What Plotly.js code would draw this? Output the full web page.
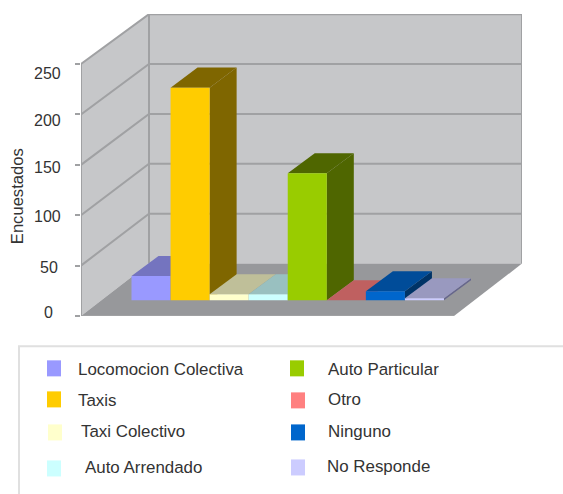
<!DOCTYPE html>
<html>
<head>
<meta charset="utf-8">
<script src="https://cdn.plot.ly/plotly-3.0.1.min.js"></script>
<style>html,body{margin:0;padding:0;background:#fff;overflow:hidden}</style>
</head>
<body>
<div id="chart" style="width:563px;height:494px"></div>
<script>
// ---- data ----
const categories = ["Locomocion Colectiva","Taxis","Taxi Colectivo","Auto Arrendado","Auto Particular","Otro","Ninguno","No Responde"];
const values = [24,211,6,6,126,0,9,2];
const frontColors = ["#9999ff","#ffcc00","#ffffcc","#ccffff","#99cc00","#ff8080","#0066cc","#ccccff"];
const topColors = ["#7474bf","#7f6600","#bfbf99","#99c0c0","#4f6600","#bf6060","#004c99","#9999bf"];
const sideColors = ["#5a5a99","#7f6600","#99997a","#7a9999","#4f6600","#995050","#003366","#66668c"];
const yTicks = [0,50,100,150,200,250];
const yTickLabels = ["0","50","100","150","200","250"];
const yAxisTitle = "Encuestados";

// ---- layout geometry (page pixels / axis units) ----
const W = 563, H = 494;
const PL = 81, PR = 522, PT = 14, PB = 315.7;
const pxPerUnitY = 1.0068, pxPerBar = 39.06;
const xMax = (PR-PL)/pxPerBar, yMax = (PB-PT)/pxPerUnitY;
const wallDX = 68/pxPerBar;
const floorW = 373/pxPerBar;
const backY = v => 52 + v*0.9901;
const barX0 = 50.5/pxPerBar, barY0 = 15.6;
const depthDX = 27/pxPerBar, depthDY = 19.9;
const gridColor = "#a0a1a3", wallColor = "#c6c7c9", floorColor = "#97989b", textColor = "#333333";

const poly = (xs, ys, color, name) => ({
  type:"scatter", mode:"lines", x:xs.concat(xs[0]), y:ys.concat(ys[0]), fill:"toself",
  fillcolor:color, line:{width:0,color:color}, hoverinfo:"skip", showlegend:false,
  cliponaxis:false, name:name||""
});
const seg = (xs, ys) => ({
  type:"scatter", mode:"lines", x:xs, y:ys, line:{width:2,color:gridColor},
  hoverinfo:"skip", showlegend:false, cliponaxis:false
});

const traces = [];
// walls and floor
traces.push(poly([wallDX,xMax,xMax,wallDX],[backY(0),backY(0),backY(250),backY(250)],wallColor,"wall"));
traces.push(poly([0,wallDX,wallDX,0],[0,backY(0),backY(250),250],wallColor,"side wall"));
traces.push(poly([0,floorW,xMax,wallDX],[0,0,backY(0),backY(0)],floorColor,"floor"));
// grid lines
yTicks.forEach(v=>{
  if(v>0) traces.push(seg([0,wallDX,xMax],[v,backY(v),backY(v)]));
});
traces.push(seg([0,0],[0,250]));
traces.push(seg([0,floorW],[0,0]));
traces.push(seg([wallDX,wallDX],[backY(0),backY(250)]));
traces.push(seg([xMax,xMax],[backY(0),backY(250)]));
// bars painted left to right
categories.forEach((c,i)=>{
  const x0 = barX0+i, x1 = x0+1, y0 = barY0, y1 = barY0+values[i];
  traces.push(poly([x1,x1+depthDX,x1+depthDX,x1],[y0,y0+depthDY,y1+depthDY,y1],sideColors[i],c+" side"));
  traces.push(poly([x0,x1,x1+depthDX,x0+depthDX],[y1,y1,y1+depthDY,y1+depthDY],topColors[i],c+" top"));
  traces.push(poly([x0,x1,x1,x0],[y0,y0,y1,y1],frontColors[i],c));
});

// ---- annotations placed in page pixels ----
const px = x => (x-PL)/(PR-PL), py = y => (PB-y)/(PB-PT);
const note = (text,x,y,anchor,size,angle) => ({
  text, xref:"paper", yref:"paper", x:px(x), y:py(y), xanchor:anchor, yanchor:"middle",
  showarrow:false, textangle:angle||0, borderpad:0, borderwidth:0,
  font:{family:"Liberation Sans, Arial, sans-serif",size:size,color:textColor}
});
const tickLabelRight = [52.7,58,61,61,61,61];
const tickLabelY = [312.7,267.7,216.7,167,120.7,73];
const annotations = [];
yTickLabels.forEach((t,i)=>annotations.push(note(t,tickLabelRight[i],tickLabelY[i],"right",16)));
annotations.push(note(yAxisTitle,17,196,"center",16.6,-90));

const swatchX = [47,47,48,47,290,291,291,291];
const swatchY = [360,391,424,460,360,392,424,459];
const legendTextX = [77.7,77.7,80.7,85,327.7,328,327.7,327];
const legendTextY = [368.7,400,431.5,467,368.7,399.5,431,466.5];
const shapes = [{type:"rect",xref:"paper",yref:"paper",x0:px(19),x1:px(580),y0:py(346),y1:py(510),
  line:{color:"#e0e0e0",width:2},fillcolor:"rgba(0,0,0,0)"}];
categories.forEach((c,i)=>{
  shapes.push({type:"rect",xref:"paper",yref:"paper",x0:px(swatchX[i]),x1:px(swatchX[i]+14),
    y0:py(swatchY[i]),y1:py(swatchY[i]+16),line:{width:0},fillcolor:frontColors[i]});
  annotations.push(note(c,legendTextX[i],legendTextY[i],"left",16.9));
});

const layout = {
  width:W, height:H, showlegend:false, paper_bgcolor:"#ffffff", plot_bgcolor:"#ffffff",
  margin:{l:PL,r:W-PR,t:PT,b:H-PB,pad:0},
  xaxis:{range:[0,xMax],visible:false,fixedrange:true},
  yaxis:{range:[0,yMax],tickmode:"array",tickvals:yTicks,showticklabels:false,ticks:"outside",
    ticklen:5,tickwidth:2,tickcolor:gridColor,showgrid:false,zeroline:false,showline:false,fixedrange:true},
  annotations, shapes
};
Plotly.newPlot("chart",traces,layout,{displayModeBar:false,staticPlot:true});
</script>
</body>
</html>
